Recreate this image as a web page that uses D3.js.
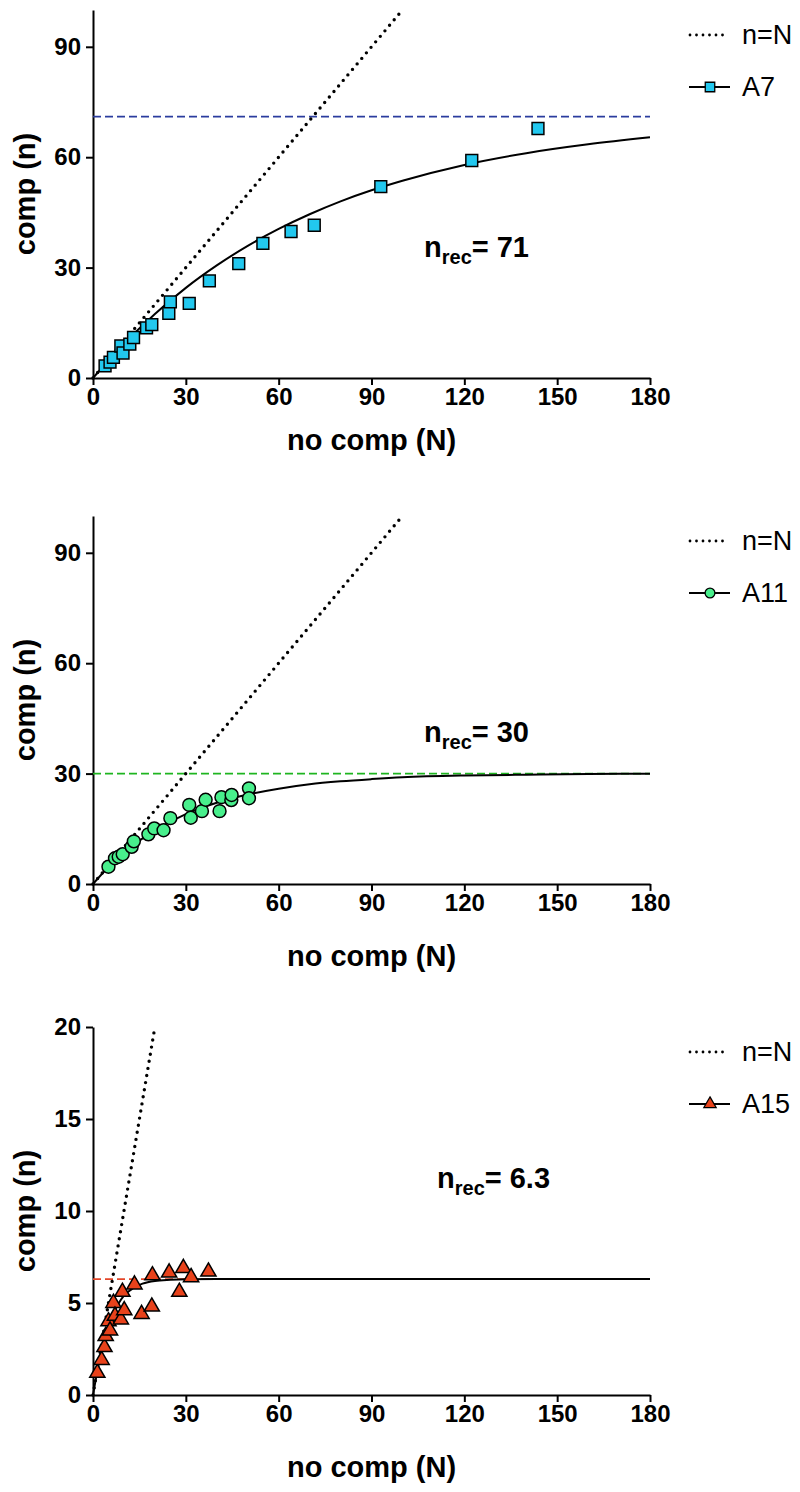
<!DOCTYPE html>
<html><head><meta charset="utf-8">
<script src="https://cdn.jsdelivr.net/npm/d3@7"></script>
<style>body{margin:0;background:#fff}svg{display:block}text{font-family:"Liberation Sans",Arial,Helvetica,sans-serif}</style>
</head><body>
<svg id="c" width="800" height="1492"></svg>
<script>
// ---- data ----
const xTicks = [0, 30, 60, 90, 120, 150, 180];
const yTicksA7 = [0, 30, 60, 90];
const yTicksA11 = [0, 30, 60, 90];
const yTicksA15 = [0, 5, 10, 15, 20];
const seriesNames = ["A7", "A11", "A15"];
const nrecValues = [71, 30, 6.3];
const nrecLabels = ["71", "30", "6.3"];
const yMaxValues = [100, 100, 20];
const identityEnd = [100, 100, 20];

const a7N = [3.9, 5.5, 6.6, 9.0, 9.7, 11.9, 13.1, 17.3, 19.0, 24.5, 25.0, 31.1, 37.6, 47.1, 54.9, 64.0, 71.5, 93.0, 122.4, 143.8];
const a7n = [3.3, 4.3, 5.6, 8.7, 6.8, 9.2, 11.0, 13.6, 14.5, 17.6, 20.7, 20.3, 26.4, 31.1, 36.6, 39.8, 41.5, 52.0, 59.1, 67.8];

const a11N = [5.0, 7.1, 8.3, 9.6, 12.5, 13.2, 17.9, 19.8, 22.8, 25.0, 31.1, 31.6, 35.2, 36.4, 40.9, 41.5, 44.7, 44.8, 50.4, 50.4];
const a11n = [4.7, 7.0, 7.4, 8.1, 10.1, 11.6, 13.5, 15.1, 14.6, 17.9, 21.5, 18.0, 19.8, 22.9, 19.8, 23.6, 22.8, 24.2, 26.0, 23.3];

const a15N = [1.4, 2.8, 3.7, 4.1, 5.0, 5.5, 6.6, 7.1, 9.0, 9.5, 10.1, 13.4, 15.7, 19.0, 19.2, 24.6, 27.9, 29.2, 31.7, 37.3];
const a15n = [1.2, 1.9, 2.6, 3.2, 4.0, 3.5, 5.0, 4.3, 4.1, 5.6, 4.6, 6.0, 4.4, 4.8, 6.5, 6.65, 5.6, 6.9, 6.4, 6.7];

// fitted curves
const fitA7N = [0, 10, 20, 30, 40, 50, 60, 70, 80, 90, 100, 120, 140, 160, 180];
const fitA7n = [0, 9.3, 17.4, 24.5, 30.6, 35.9, 40.5, 44.5, 48.0, 51.0, 53.6, 57.9, 61.1, 63.5, 65.4];
const fitA11N = [0, 5, 10, 15, 20, 30, 40, 50, 60, 70, 80, 90, 100, 120, 140, 160, 180];
const fitA11n = [0, 4.6, 8.5, 11.8, 14.6, 19.0, 22.1, 24.3, 25.9, 27.1, 27.9, 28.5, 29.0, 29.5, 29.7, 29.9, 29.95];
const fitA15N = [0, 2, 4, 6, 8, 10, 13, 16, 20, 25, 30, 40, 180];
const fitA15n = [0, 1.8, 3.2, 4.2, 4.9, 5.4, 5.8, 6.05, 6.2, 6.26, 6.29, 6.3, 6.3];

// ---- layout / style ----
const svg = d3.select("#c");
const left = 93, right = 650, ph = 368;
const tops = [10, 516, 1027];
const titleOff = [72, 82, 82];
const fills = ["#22c8ef", "#48ef8c", "#e8421b"];
const dashCols = ["#2b3c9e", "#1fb520", "#e3472a"];
const symbols = [d3.symbolSquare, d3.symbolCircle, d3.symbolTriangle];
const symSizes = [140, 130, 100];
const legSizes = [90, 75, 65];
const annot = [[424, 247], [424, 226], [437, 161]];
const FONT = '"Liberation Sans", Arial, Helvetica, sans-serif';

const panels = [
  {N: a7N, n: a7n, fN: fitA7N, fn: fitA7n, yt: yTicksA7},
  {N: a11N, n: a11n, fN: fitA11N, fn: fitA11n, yt: yTicksA11},
  {N: a15N, n: a15n, fN: fitA15N, fn: fitA15n, yt: yTicksA15}
];

panels.forEach((p, i) => {
  const top = tops[i], bottom = top + ph;
  const x = d3.scaleLinear().domain([0, 180]).range([left, right]);
  const y = d3.scaleLinear().domain([0, yMaxValues[i]]).range([bottom, top]);
  const g = svg.append("g");

  // axes
  const ax = g.append("g").attr("transform", `translate(0,${bottom})`)
    .call(d3.axisBottom(x).tickValues(xTicks).tickSize(7).tickSizeOuter(0).tickPadding(3));
  const ay = g.append("g").attr("transform", `translate(${left},0)`)
    .call(d3.axisLeft(y).tickValues(p.yt).tickSize(7).tickSizeOuter(0).tickPadding(5));
  [ax, ay].forEach(a => {
    a.select(".domain").attr("stroke", "#000").attr("stroke-width", 2);
    a.selectAll(".tick line").attr("stroke", "#000").attr("stroke-width", 2);
    a.selectAll(".tick text").attr("font-family", FONT).attr("font-size", 24)
      .attr("font-weight", "bold").attr("fill", "#000");
  });

  // axis titles
  g.append("text").attr("x", (left + right) / 2).attr("y", bottom + titleOff[i])
    .attr("text-anchor", "middle").attr("font-size", 29).attr("font-weight", "bold")
    .attr("font-family", FONT).text("no comp (N)");
  g.append("text").attr("transform", `translate(35,${(top + bottom) / 2}) rotate(-90)`)
    .attr("text-anchor", "middle").attr("font-size", 29).attr("font-weight", "bold")
    .attr("font-family", FONT).text("comp (n)");

  // nrec dashed line
  g.append("line").attr("x1", x(0)).attr("x2", x(180))
    .attr("y1", y(nrecValues[i])).attr("y2", y(nrecValues[i]))
    .attr("stroke", dashCols[i]).attr("stroke-width", 1.8).attr("stroke-dasharray", "8 4");

  // identity dotted line
  g.append("path").datum([[0, 0], [identityEnd[i], identityEnd[i]]])
    .attr("d", d3.line().x(d => x(d[0])).y(d => y(d[1])))
    .attr("fill", "none").attr("stroke", "#000").attr("stroke-width", 3.4)
    .attr("stroke-linecap", "round").attr("stroke-dasharray", "0 7.2");

  // fit curve
  g.append("path").datum(p.fN.map((v, k) => [v, p.fn[k]]))
    .attr("d", d3.line().x(d => x(d[0])).y(d => y(d[1])).curve(d3.curveMonotoneX))
    .attr("fill", "none").attr("stroke", "#000").attr("stroke-width", 2);

  // markers
  g.selectAll(".m").data(p.N.map((v, k) => [v, p.n[k]])).join("path")
    .attr("transform", d => `translate(${x(d[0])},${y(d[1])})`)
    .attr("d", d3.symbol().type(symbols[i]).size(symSizes[i]))
    .attr("fill", fills[i]).attr("stroke", "#000").attr("stroke-width", 1.5);

  // legend
  const l1 = top + 25, l2 = top + 77;
  g.append("line").attr("x1", 690).attr("x2", 729).attr("y1", l1).attr("y2", l1)
    .attr("stroke", "#000").attr("stroke-width", 2.8).attr("stroke-linecap", "round")
    .attr("stroke-dasharray", "0 6.5");
  g.append("text").attr("x", 742).attr("y", l1 + 9).attr("font-size", 27)
    .attr("font-family", FONT).text("n=N");
  g.append("line").attr("x1", 689).attr("x2", 730).attr("y1", l2).attr("y2", l2)
    .attr("stroke", "#000").attr("stroke-width", 2);
  g.append("path").attr("transform", `translate(710,${l2})`)
    .attr("d", d3.symbol().type(symbols[i]).size(legSizes[i]))
    .attr("fill", fills[i]).attr("stroke", "#000").attr("stroke-width", 1.3);
  g.append("text").attr("x", 742).attr("y", l2 + 9).attr("font-size", 27)
    .attr("font-family", FONT).text(seriesNames[i]);

  // annotation
  const t = g.append("text").attr("x", annot[i][0]).attr("y", top + annot[i][1])
    .attr("font-family", FONT).attr("font-weight", "bold").attr("font-size", 29);
  t.append("tspan").text("n");
  t.append("tspan").attr("font-size", 20).attr("dy", 7).text("rec");
  t.append("tspan").attr("dy", -7).text("= " + nrecLabels[i]);
});
</script>
</body></html>
